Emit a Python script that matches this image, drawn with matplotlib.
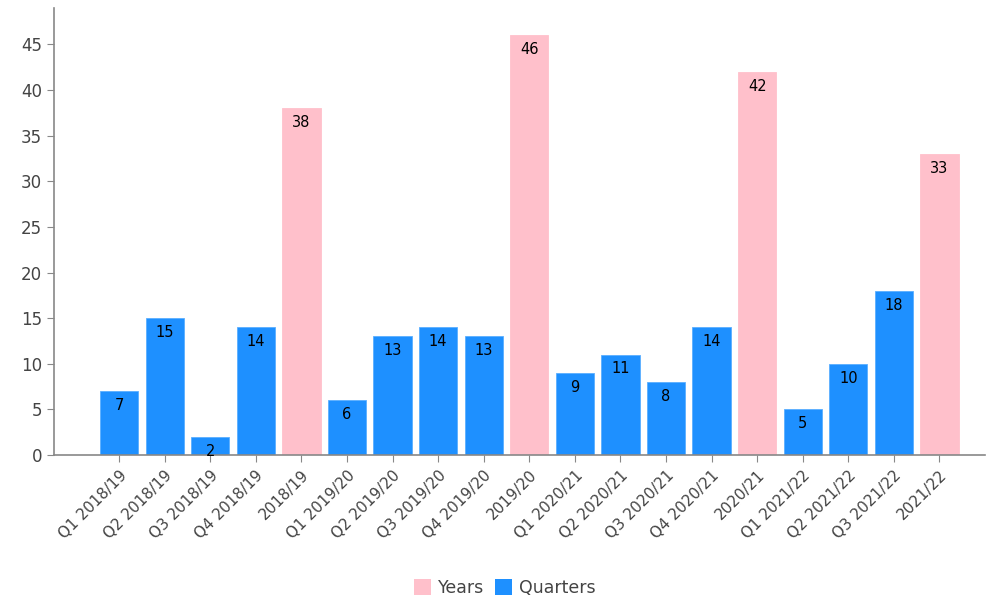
import matplotlib
matplotlib.use("Agg")
import matplotlib.pyplot as plt
from matplotlib.patches import Patch

categories = ["Q1 2018/19", "Q2 2018/19", "Q3 2018/19", "Q4 2018/19", "2018/19",
              "Q1 2019/20", "Q2 2019/20", "Q3 2019/20", "Q4 2019/20", "2019/20",
              "Q1 2020/21", "Q2 2020/21", "Q3 2020/21", "Q4 2020/21", "2020/21",
              "Q1 2021/22", "Q2 2021/22", "Q3 2021/22", "2021/22"]
values = [7, 15, 2, 14, 38, 6, 13, 14, 13, 46, 9, 11, 8, 14, 42, 5, 10, 18, 33]
is_year = [not c.startswith("Q") for c in categories]

PINK = "#FFC0CB"
BLUE = "#1E90FF"
colors = [PINK if y else BLUE for y in is_year]

W, H = 988, 603
fig = plt.figure(figsize=(W / 100, H / 100), dpi=100)
ax = fig.add_axes([54 / W, (H - 455) / H, (985 - 54) / W, (455 - 8) / H])

x = list(range(len(categories)))
bars = ax.bar(x, values, width=0.84, color=colors,
              edgecolor=[PINK if y else "#5AAEFF" for y in is_year], linewidth=0.6)

for xi, v in zip(x, values):
    ax.text(xi, v - 0.75, str(v), ha="center", va="top", fontsize=10.5, color="black")

ax.set_xlim(-1.43, 19.0)
ax.set_ylim(0, 49)
ax.set_yticks(range(0, 50, 5))
ax.set_xticks(x)
ax.set_xticklabels(categories, rotation=45, ha="right", rotation_mode="anchor",
                   fontsize=11, color="#444444")
ax.tick_params(axis="y", labelsize=12, colors="#444444", length=5, color="#888888")
ax.tick_params(axis="x", length=5, color="#888888", pad=4)
for s in ["top", "right"]:
    ax.spines[s].set_visible(False)
for s in ["left", "bottom"]:
    ax.spines[s].set_color("#888888")
    ax.spines[s].set_linewidth(1.2)

handles = [Patch(facecolor=PINK, label="Years"), Patch(facecolor=BLUE, label="Quarters")]
fig.legend(handles=handles, loc="center", bbox_to_anchor=(505 / W, 1 - 588 / H), ncol=2, frameon=False,
           fontsize=12.5, handlelength=1.0, handleheight=1.0, handletextpad=0.4, columnspacing=0.6,
           labelcolor="#444444")

fig.savefig("out.png", dpi=100)
